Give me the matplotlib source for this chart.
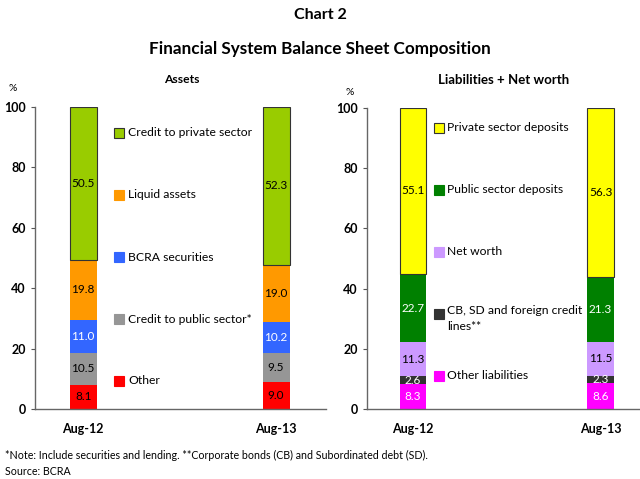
import matplotlib.pyplot as plt
import numpy as np

plt.rcParams["font.family"] = ["Lato", "DejaVu Sans"]

dates = ["Aug-12", "Aug-13"]

# Assets (bottom to top)
asset_names = ["Other", "Credit to public sector*", "BCRA securities", "Liquid assets", "Credit to private sector"]
asset_other = [8.1, 9.0]
asset_public = [10.5, 9.5]
asset_bcra = [11.0, 10.2]
asset_liquid = [19.8, 19.0]
asset_private = [50.5, 52.3]

# Liabilities + net worth (bottom to top)
liab_names = ["Other liabilities", "CB, SD and foreign credit\nlines**", "Net worth", "Public sector deposits", "Private sector deposits"]
liab_other = [8.3, 8.6]
liab_cb = [2.6, 2.3]
liab_networth = [11.3, 11.5]
liab_public = [22.7, 21.3]
liab_private = [55.1, 56.3]

asset_colors = ["#ff0000", "#969696", "#3366ff", "#ff9900", "#99cc00"]
asset_text = ["black", "black", "white", "black", "black"]
liab_colors = ["#ff00ff", "#333333", "#cc99ff", "#008000", "#ffff00"]
liab_text = ["white", "white", "black", "white", "black"]


def stacked(ax, series, names, colors, text_colors, legend_x, legend_ys):
    x = np.arange(len(dates))
    bottom = np.zeros(len(dates))
    n = len(series)
    for i, (vals, name, c, tc) in enumerate(zip(series, names, colors, text_colors)):
        top = i == n - 1
        ax.bar(x, vals, 0.14, bottom=bottom, color=c,
               edgecolor="#333333" if top else c, linewidth=0.8 if top else 0, zorder=2)
        for xi, v, b in zip(x, vals, bottom):
            ax.text(xi, b + v / 2, f"{v:.1f}", ha="center", va="center", fontsize=8.5, color=tc, zorder=3)
        bottom = bottom + np.array(vals)
        ly = legend_ys[i]
        ax.plot([legend_x], [ly], marker="s", markersize=7, color=c,
                markeredgecolor="#333333" if top else c, markeredgewidth=0.8,
                transform=ax.transAxes, clip_on=False)
        multi = "\n" in name
        ax.text(legend_x + 0.029, ly + (0.028 if multi else 0), name, transform=ax.transAxes,
                ha="left", va="top" if multi else "center", fontsize=8.7, linespacing=1.45)
    ax.set_xticks(x)
    ax.set_xticklabels(dates, fontsize=9, fontweight="bold")
    ax.set_ylim(0, 100)
    ax.set_yticks(range(0, 101, 20))
    ax.tick_params(axis="y", labelsize=9, length=3, color="#555555")
    ax.tick_params(axis="x", length=0, pad=10)
    for lab in ax.get_yticklabels():
        lab.set_fontweight("bold")
    for s in ["top", "right"]:
        ax.spines[s].set_visible(False)
    for s in ["left", "bottom"]:
        ax.spines[s].set_color("#666666")
        ax.spines[s].set_linewidth(1.0)


fig = plt.figure(figsize=(6.4, 4.79), dpi=100)
ax1 = fig.add_axes([0.0547, 0.1461, 0.455, 0.6305])
ax2 = fig.add_axes([0.5734, 0.1461, 0.4266, 0.6284])
ax1.set_xlim(-0.25, 1.26)
ax2.set_xlim(-0.245, 1.21)

stacked(ax1, [asset_other, asset_public, asset_bcra, asset_liquid, asset_private],
        asset_names, asset_colors, asset_text, 0.29,
        [0.093, 0.298, 0.503, 0.709, 0.914])
stacked(ax2, [liab_other, liab_cb, liab_networth, liab_public, liab_private],
        liab_names, liab_colors, liab_text, 0.264,
        [0.11, 0.316, 0.522, 0.728, 0.934])

fig.text(0.5, 0.968, "Chart 2", ha="center", va="center", fontsize=11.5, fontweight="bold")
fig.text(0.5, 0.897, "Financial System Balance Sheet Composition", ha="center", va="center",
         fontsize=12.3, fontweight="bold")
fig.text(0.284, 0.833, "Assets", ha="center", va="center", fontsize=8.7, fontweight="bold")
fig.text(0.787, 0.833, "Liabilities + Net worth", ha="center", va="center", fontsize=9.5, fontweight="bold")
fig.text(0.02, 0.815, "%", ha="center", va="center", fontsize=7.5)
fig.text(0.547, 0.807, "%", ha="center", va="center", fontsize=7.5)
fig.text(0.008, 0.05, "*Note: Include securities and lending. **Corporate bonds (CB) and Subordinated debt (SD).",
         ha="left", va="center", fontsize=7.7)
fig.text(0.008, 0.016, "Source: BCRA", ha="left", va="center", fontsize=7.7)

fig.savefig("out.png", dpi=100)
